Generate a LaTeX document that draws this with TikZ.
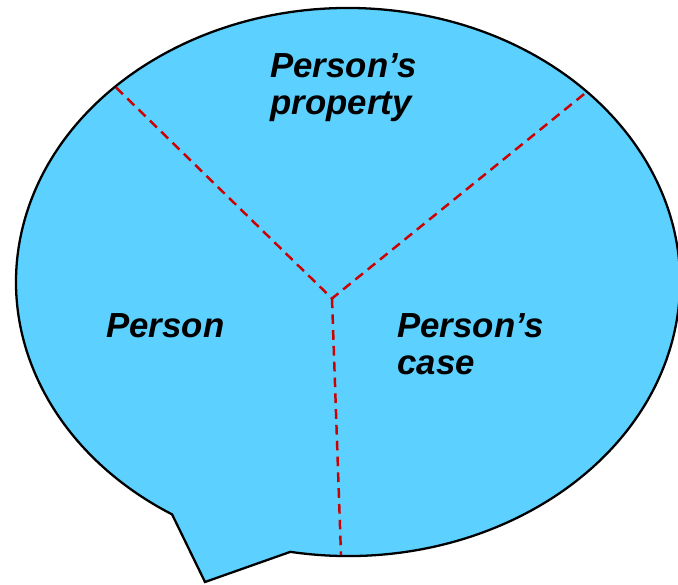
\documentclass[tikz,border=0pt]{standalone}
\usepackage{fontspec}
\usepackage{tikz}
\usetikzlibrary{positioning,calc}
\newfontfamily\arialf{Liberation Sans}
\definecolor{bsky}{HTML}{5CD1FF}
\definecolor{bred}{HTML}{CC0000}
\tikzset{
  bubble/.style={fill=bsky,draw=black,line width=1.3pt,line join=miter},
  cut/.style={draw=bred,line width=1.4pt,dash pattern=on 5.5pt off 3.5pt},
  lab/.style={font=\arialf\bfseries\itshape\fontsize{19.8}{21}\selectfont,align=left,inner sep=0pt,anchor=north west},
}
\begin{document}
\begin{tikzpicture}
  \useasboundingbox (0,0) rectangle (13.56,-11.70);
  \clip (0,0) rectangle (13.56,-11.70);
  % speech bubble with tail
  \draw[bubble] (5.807,-11.037) arc[start angle=260,end angle=598,x radius=6.64cm,y radius=5.48cm]
    -- (4.10,-11.64) -- cycle;
  % three sectors
  \coordinate (mid) at (6.64,-5.97);
  \coordinate (tl) at (2.32,-1.75);
  \coordinate (tr) at (11.72,-1.85);
  \coordinate (bt) at (6.82,-11.10);
  \draw[cut] (tl) -- (mid) -- (tr);
  \draw[cut] (mid) -- (bt);
  % labels
  \node[lab] (prop) at (5.40,-1.06) {Person’s\\property};
  \node[lab] (pers) at (2.12,-6.26) {Person};
  \node[lab] (case) at (7.94,-6.26) {Person’s\\case};
\end{tikzpicture}
\end{document}
